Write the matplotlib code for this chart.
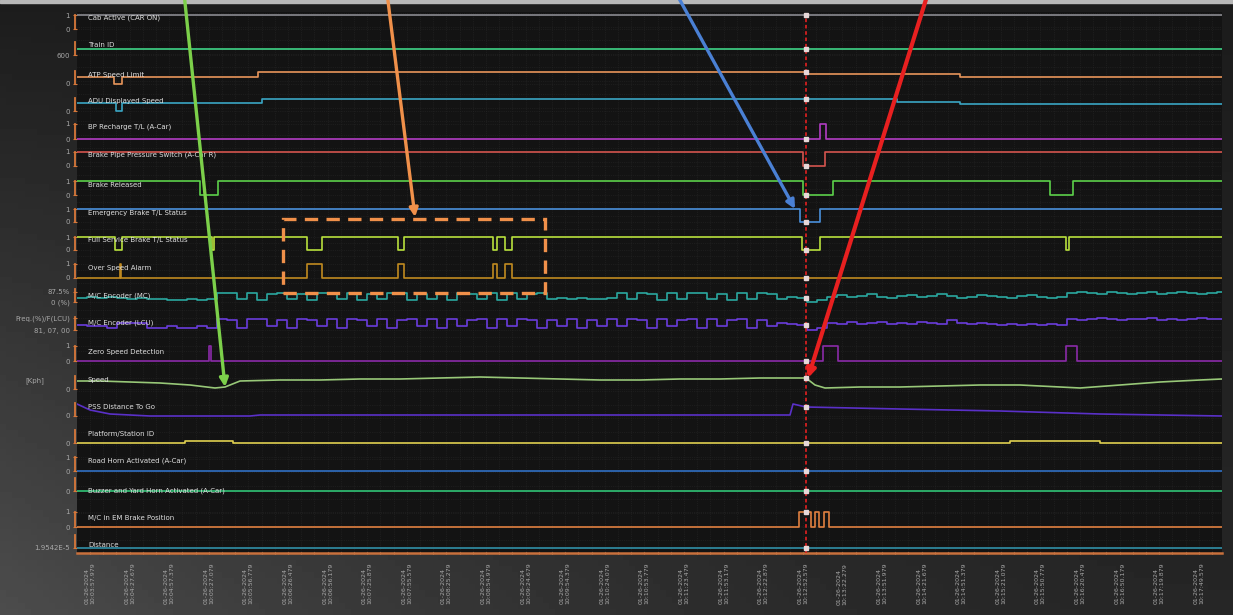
import numpy as np
import matplotlib.pyplot as plt
import matplotlib.transforms as mtransforms
from matplotlib.patches import Rectangle
from matplotlib.ticker import AutoMinorLocator, MultipleLocator, FixedLocator


def to_sec(hms):
    # seconds after 10:00:00
    h, m, s = hms.split(":")
    return (int(h) - 10) * 3600 + int(m) * 60 + float(s)


# ---------------- data ----------------
DATE = "01-26-2024"
tick_times = ["10:03:57.979", "10:04:27.679", "10:04:57.379", "10:05:27.079", "10:05:56.779",
              "10:06:26.479", "10:06:56.179", "10:07:25.879", "10:07:55.579", "10:08:25.279",
              "10:08:54.979", "10:09:24.679", "10:09:54.379", "10:10:24.079", "10:10:53.779",
              "10:11:23.479", "10:11:53.179", "10:12:22.879", "10:12:52.579", "10:13:22.279",
              "10:13:51.979", "10:14:21.679", "10:14:51.379", "10:15:21.079", "10:15:50.779",
              "10:16:20.479", "10:16:50.179", "10:17:19.879", "10:17:49.579"]
x_start, x_end = "10:03:48.229", "10:18:07.000"
cursor_time = "10:12:55.000"

lane_names = ["Cab Active (CAR ON)", "Train ID", "ATP Speed Limit", "ADU Displayed Speed",
              "BP Recharge T/L (A-Car)", "Brake Pipe Pressure Switch (A-Car R)", "Brake Released",
              "Emergency Brake T/L Status", "Full Service Brake T/L Status", "Over Speed Alarm",
              "M/C Encoder (MC)", "M/C Encoder (LCU)", "Zero Speed Detection", "Speed",
              "PSS Distance To Go", "Platform/Station ID", "Road Horn Activated (A-Car)",
              "Buzzer and Yard Horn Activated (A-Car)", "M/C in EM Brake Position", "Distance"]
lane_ticks = [[(1, "1"), (0, "0")], [(600, "600")], [(0, "0")], [(0, "0")],
              [(1, "1"), (0, "0")], [(1, "1"), (0, "0")], [(1, "1"), (0, "0")],
              [(1, "1"), (0, "0")], [(1, "1"), (0, "0")], [(1, "1"), (0, "0")],
              [(1, "87.5%"), (0, "0 (%)")], [(1, "Freq.(%)/F(LCU)"), (0, "81, 07, 00")],
              [(1, "1"), (0, "0")], [(0, "0")], [(0, "0")], [(0, "0")],
              [(1, "1"), (0, "0")], [(0, "0")], [(1, "1"), (0, "0")], [(0, "1.9542E-5")]]

cab_active = 1
train_id = 612
# times in seconds after 10:00:00
atp_t = [228.25, 256.0, 262.0, 364.0, 776.5, 890.5]
atp_kph = [40, 0, 40, 70, 55, 40]
adu_t = [228.25, 257.5, 262.0, 367.0, 843.25, 890.5]
adu_kph = [46, 0, 46, 69, 51, 40]
bp_recharge_on = [(785.5, 790.0)]
bpps_off = [(772.75, 789.25)]
brake_released_off = [(320.5, 334.0), (772.75, 795.25), (958.0, 975.25)]
eb_off = [(770.5, 785.5)]
fsb_off = [(256.75, 262.0), (329.5, 331.0), (400.75, 412.0), (469.0, 473.5),
           (540.25, 543.25), (549.25, 554.5), (772.0, 785.5), (970.0, 972.25)]
osa_on = [(260.5, 261.25), (400.75, 412.0), (469.0, 473.5), (540.25, 543.25), (549.25, 554.5)]
enc_t0, enc_dt = 228.25, 7.5
mc_enc = [0.4, 0.5, 0.4, 0.5, 0.4, 0.3, 0.4, 0.3, 0.3, 0.2, 0.2, 0.3, 0.2, 0.3,
          0.9, 0.9, 0.3, 0.9, 0.2, 0.8, 0.9, 0.3, 0.8, 0.2, 0.9, 0.9, 0.3, 0.9, 0.2, 0.8, 0.3,
          0.9, 0.9, 0.2, 0.8, 0.3, 0.9, 0.2, 0.9, 0.8, 0.3, 0.9, 0.2, 0.9, 0.3, 0.8, 0.9,
          0.3, 0.4, 0.3, 0.4, 0.3, 0.3, 0.4,
          0.9, 0.3, 0.9, 0.8, 0.2, 0.9, 0.3, 0.9, 0.9, 0.3, 0.8, 0.2, 0.9, 0.3, 0.9, 0.8, 0.3, 0.5,
          0.4, 0.0, 0.2,
          0.5, 0.7, 0.5, 0.6, 0.8, 0.5, 0.4, 0.6, 0.7, 0.5, 0.6, 0.8, 0.6, 0.4, 0.5, 0.7, 0.6,
          0.5, 0.4, 0.6, 0.7, 0.5, 0.4, 0.5,
          0.9, 1.0, 0.9, 0.8, 1.0, 0.9, 0.8, 0.9, 1.0, 0.8, 0.9, 1.0, 0.9, 0.8, 0.9, 1.0]
lcu_enc = [0.4, 0.3, 0.3, 0.2, 0.6, 0.6, 0.6, 0.2, 0.2, 0.3, 0.2, 0.2, 0.3, 0.2,
           0.9, 0.8, 0.2, 0.9, 0.9, 0.3, 0.8, 0.2, 0.9, 0.8, 0.3, 0.9, 0.2, 0.9, 0.8, 0.3, 0.9,
           0.2, 0.8, 0.9, 0.3, 0.9, 0.2, 0.9, 0.3, 0.8, 0.9, 0.2, 0.9, 0.3, 0.9, 0.8, 0.2,
           0.8, 0.3, 0.9, 0.2, 0.8, 0.3, 0.9,
           0.3, 0.9, 0.8, 0.2, 0.9, 0.3, 0.8, 0.9, 0.2, 0.9, 0.3, 0.8, 0.9, 0.2, 0.8, 0.3, 0.6, 0.5,
           0.4, 0.0, 0.2,
           0.6, 0.5, 0.7, 0.5, 0.6, 0.7, 0.5, 0.6, 0.5, 0.7, 0.6, 0.5, 0.8, 0.6, 0.5, 0.6, 0.5,
           0.4, 0.5, 0.4, 0.5, 0.4, 0.5, 0.4,
           0.9, 0.8, 0.9, 1.0, 0.9, 0.8, 0.9, 0.9, 1.0, 0.8, 0.9, 0.8, 0.9, 1.0, 0.9, 0.9]
zsd_on = [(327.25, 328.75), (787.75, 799.0), (970.0, 978.25)]
speed_t = [228.25, 245.5, 268.0, 290.5, 313.0, 331.75, 339.25, 350.5, 380.5, 410.5, 440.5,
           470.5, 500.5, 530.5, 560.5, 590.5, 620.5, 650.5, 680.5, 710.5, 740.5, 770.5,
           775.0, 781.75, 789.25, 815.5, 845.5, 875.5, 905.5, 935.5, 965.5, 980.5, 1010.5,
           1040.5, 1070.5, 1087.0]
speed_kph = [32, 32, 28, 24, 16, 4, 8, 32, 36, 36, 40, 40, 44, 48, 44, 40, 36, 36, 40, 40,
             44, 44, 44, 16, 4, 8, 8, 12, 16, 16, 8, 4, 16, 28, 36, 40]
pss_t = [228.25, 238.0, 253.0, 283.0, 358.0, 365.5, 763.0, 765.25, 775.0, 845.5, 920.5,
         995.5, 1087.0]
pss_m = [1200, 600, 200, 0, 0, 100, 100, 1200, 900, 700, 500, 200, 0]
psid_t = [228.25, 309.25, 345.25, 928.0, 995.5]
psid = [0, 1, 0, 1, 0]
road_horn = 0
buzzer = 0
em_on = [(769.75, 778.75), (781.75, 784.75), (788.5, 792.25)]
distance = 0

# ---------------- layout / style ----------------
lane_base = [524, 498, 469, 442, 414, 387, 358, 331, 303, 275, 251, 223, 192, 164, 137, 110, 82, 62, 26, 5]
lane_scale = [14, 0.5, 0.175, 0.175, 15, 14, 14, 13, 13, 14, 10, 12, 15, 0.25, 0.01, 2, 14, 14, 15, 1]
lane_ref = [0, 600] + [0] * 18
lane_label_dy = [11, 10, 9, 10, 12, 11, 10, 9, 10, 10, 6, 7, 9, 9, 9, 9, 10, 0, 9, 3]
lane_colors = ["#8a8a90", "#3fd487", "#e8955a", "#3aa6c4", "#b23cc4", "#d4544e", "#5cd04a",
               "#4a90dc", "#b8e03c", "#c08a20", "#2aa8a0", "#6a3cdc", "#8a2aa8", "#98c878",
               "#5a30c8", "#e0d050", "#3070c4", "#30c476", "#e08040", "#3090a8"]

x0, x1 = to_sec(x_start), to_sec(x_end)
cursor = to_sec(cursor_time)


def pulses(intervals, idle, active):
    t, v = [x0], [idle]
    for a, b in intervals:
        t += [a, b]
        v += [active, idle]
    return np.array(t + [x1]), np.array(v + [idle], dtype=float)


def levels(t, v):
    return np.array(list(t) + [x1]), np.array(list(v) + [v[-1]], dtype=float)


enc_t = enc_t0 + enc_dt * np.arange(len(mc_enc))
series = [
    (0, *pulses([], cab_active, cab_active), "step"),
    (1, *pulses([], train_id, train_id), "step"),
    (2, *levels(atp_t, atp_kph), "step"),
    (3, *levels(adu_t, adu_kph), "step"),
    (4, *pulses(bp_recharge_on, 0, 1), "step"),
    (5, *pulses(bpps_off, 1, 0), "step"),
    (6, *pulses(brake_released_off, 1, 0), "step"),
    (7, *pulses(eb_off, 1, 0), "step"),
    (8, *pulses(fsb_off, 1, 0), "step"),
    (9, *pulses(osa_on, 0, 1), "step"),
    (10, *levels(enc_t, mc_enc), "step"),
    (11, *levels(enc_t, lcu_enc), "step"),
    (12, *pulses(zsd_on, 0, 1), "step"),
    (13, np.array(speed_t), np.array(speed_kph, dtype=float), "line"),
    (14, np.array(pss_t), np.array(pss_m, dtype=float), "line"),
    (15, *levels(psid_t, psid), "step"),
    (16, *pulses([], road_horn, road_horn), "step"),
    (17, *pulses([], buzzer, buzzer), "step"),
    (18, *pulses(em_on, 0, 1), "step"),
    (19, *pulses([], distance, distance), "step"),
]

W, H = 1233, 615
fig = plt.figure(figsize=(W / 100, H / 100), dpi=100)

# background
bg = fig.add_axes([0, 0, 1, 1], zorder=-10)
gx, gy = np.meshgrid(np.linspace(0, 1, 200), np.linspace(0, 1, 100))
shade = 0.11 + 0.15 * (1 - gx) ** 2 * gy + 0.04 * gy
bg.imshow(shade, cmap="gray", vmin=0, vmax=1, aspect="auto", extent=[0, 1, 1, 0])
bg.add_patch(Rectangle((0, 0), 1, 3 / H, color="#b8b8b8"))
bg.set_xlim(0, 1)
bg.set_ylim(1, 0)
bg.axis("off")

ax = fig.add_axes([77 / W, 62 / H, 1145 / W, 541 / H])
ax.set_facecolor("#131313")
ax.set_xlim(x0, x1)
ax.set_ylim(0, 541)

for lane, t, v, kind in series:
    y = lane_base[lane] + lane_scale[lane] * (v - lane_ref[lane])
    if kind == "step":
        ax.step(t, y, where="post", color=lane_colors[lane], lw=1.2, zorder=3)
        vc = v[np.searchsorted(t, cursor, side="right") - 1]
    else:
        ax.plot(t, y, color=lane_colors[lane], lw=1.2, zorder=3)
        vc = np.interp(cursor, t, v)
    yc = lane_base[lane] + lane_scale[lane] * (vc - lane_ref[lane])
    ax.plot(cursor, yc, "s", ms=2.6, color="#e6d8d8", zorder=6)

# lane labels and y ticks
tr = mtransforms.blended_transform_factory(ax.transAxes, ax.transData)
yt, yl = [], []
for i, name in enumerate(lane_names):
    ax.text(11 / 1145, lane_base[i] + lane_label_dy[i], name, transform=tr, fontsize=5,
            color="#dedede", va="center", ha="left", zorder=5)
    ys = []
    for val, lab in lane_ticks[i]:
        yy = lane_base[i] + lane_scale[i] * (val - lane_ref[i])
        yt.append(yy)
        yl.append(lab)
        ys.append(yy)
    lo = min(ys)
    hi = max(max(ys), lo + 13)
    ax.plot([-0.0015, -0.0015], [lo, hi], transform=tr, color="#d8783a", lw=1.3,
            clip_on=False, zorder=4)
ax.set_yticks(yt)
ax.set_yticklabels(yl)
ax.tick_params(axis="y", colors="#d8783a", labelcolor="#a8a8a8", labelsize=5, length=3,
               width=0.8, pad=2)
ax.yaxis.set_minor_locator(MultipleLocator(13.5))
ax.tick_params(axis="y", which="minor", length=0)
ax.text(-42 / 1145, 172, "[Kph]", transform=tr, fontsize=5, color="#a8a8a8",
        ha="center", va="center")

# x ticks
xt = [to_sec(s) for s in tick_times]
ax.xaxis.set_major_locator(FixedLocator(xt))
ax.set_xticklabels([f"{DATE}\n{s}" for s in tick_times], rotation=90, fontsize=4.5,
                   color="#a8a8a8", va="top", ha="center", multialignment="left")
ax.xaxis.set_minor_locator(AutoMinorLocator(3))
ax.tick_params(axis="x", which="both", colors="#e0b08a", length=2, width=0.8,
               direction="inout", pad=6)
ax.tick_params(axis="x", labelcolor="#a8a8a8")

ax.grid(which="both", color="#272727", lw=0.5, ls=":")
for s in ["top", "right", "left"]:
    ax.spines[s].set_visible(False)
ax.spines["bottom"].set_color("#c8703c")
ax.spines["bottom"].set_linewidth(1.8)

# cursor
ax.plot([cursor, cursor], [0, lane_base[0] + 14], color="#d42020", lw=1.3,
        ls=(0, (2, 1.5)), zorder=5)

# highlight box
ax.add_patch(Rectangle((382.75, 260), 196.5, 74, fill=False, ec="#f0904a", lw=2.4,
                       ls=(0, (4, 2.5)), clip_on=False, zorder=7))

# annotation arrows
arrows = [((339.25, 166), (184, 622), "#7cd04a", 2.4),
          ((481.75, 336), (387, 622), "#f0904a", 2.4),
          ((766.75, 344), (676, 622), "#4a80d4", 2.4),
          ((776.5, 175), (928, 622), "#e82020", 3.0)]
for tip, tail, col, lw in arrows:
    ax.annotate("", xy=tip, xycoords="data", xytext=tail, textcoords="figure pixels",
                arrowprops=dict(arrowstyle="-|>,head_length=0.5,head_width=0.25", color=col,
                                lw=lw, shrinkA=0, shrinkB=0),
                annotation_clip=False, zorder=8)

fig.savefig("out.png", dpi=100, facecolor=fig.get_facecolor())
